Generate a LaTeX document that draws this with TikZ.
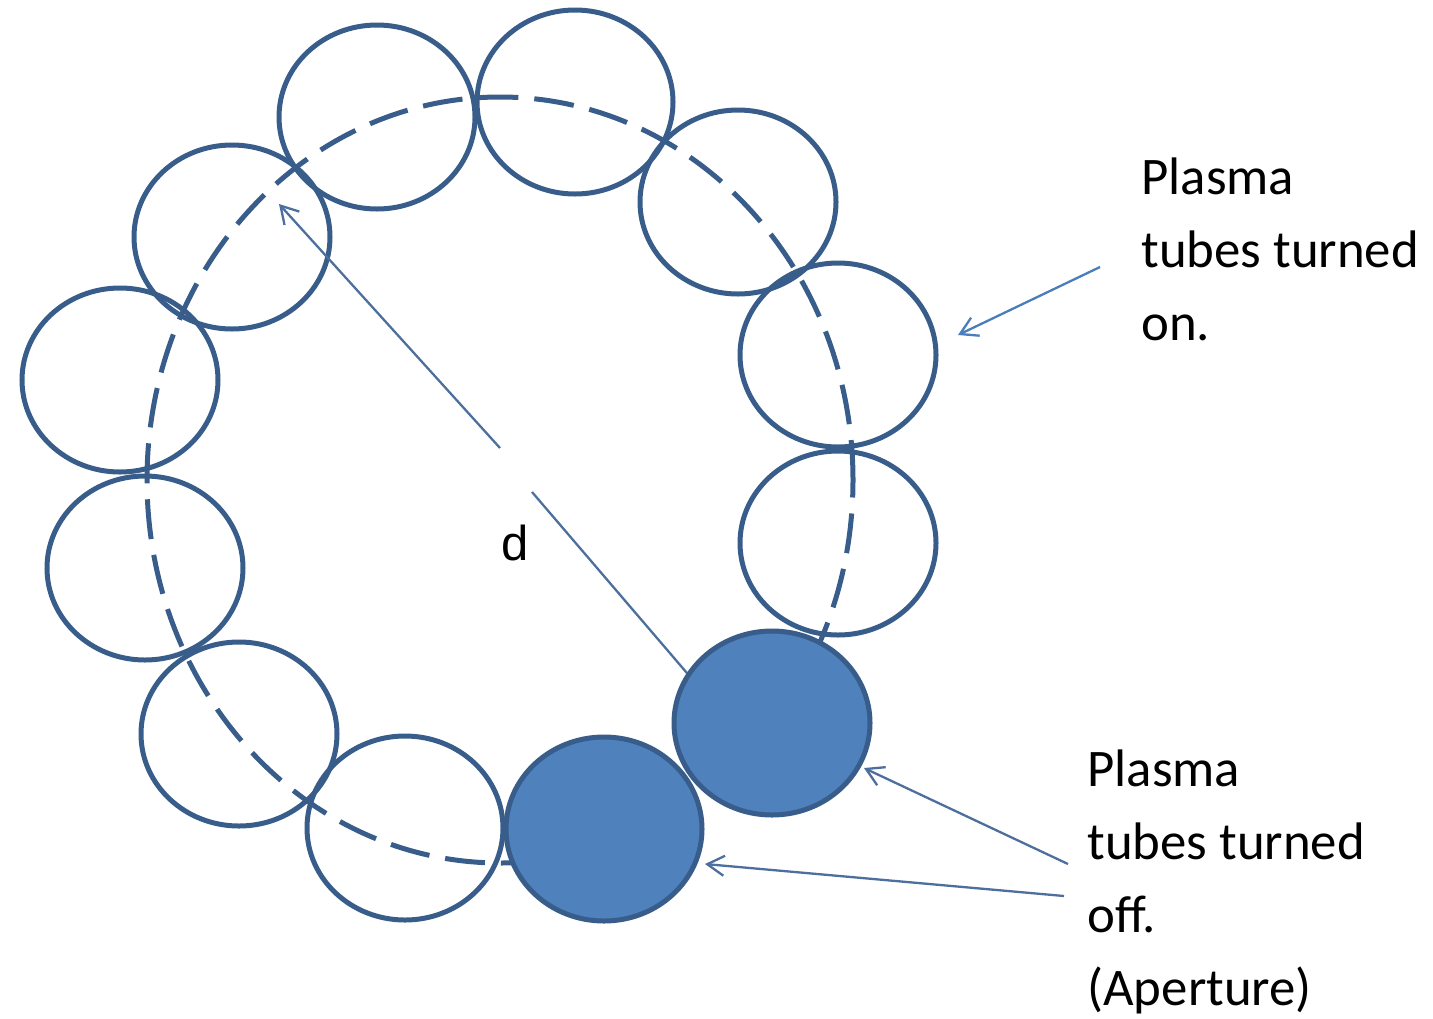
\documentclass[tikz,border=0pt]{standalone}
\usepackage{fontspec}
\setmainfont{Carlito}
\newfontfamily\arialfont{Liberation Sans}
\usetikzlibrary{shapes.geometric,arrows.meta}
\definecolor{outl}{HTML}{385D8A}
\definecolor{tubefill}{HTML}{4F81BD}
\definecolor{arrA}{HTML}{4A7EBB}
\definecolor{arrB}{HTML}{4D6F9D}
\begin{document}
\begin{tikzpicture}[x=0.5pt,y=-0.5pt,
 tube/.style={ellipse,draw=outl,line width=2.5pt,minimum width=98pt,minimum height=92pt,inner sep=0pt},
 offtube/.style={tube,fill=tubefill},
 ring/.style={draw=outl,line width=2.5pt,dash pattern=on 20pt off 8pt},
 pointer/.style={line width=1.15pt,-{Straight Barb[length=8.5pt,width=10pt]}},
 lbl/.style={font=\fontsize{26.4}{30}\selectfont,anchor=base west,inner sep=0pt}
]
\useasboundingbox (0,0) rectangle (1433,1018);

% dashed ring
\draw[ring] (500,480) ellipse [x radius=176.5pt, y radius=191.5pt];

% plasma tubes (on)
\node[tube] (t1) at (377,117) {};
\node[tube] (t2) at (575,102) {};
\node[tube] (t3) at (738,202) {};
\node[tube] (t4) at (838,355) {};
\node[tube] (t5) at (838,543) {};
\node[tube] (t8) at (405,828) {};
\node[tube] (t9) at (239,734) {};
\node[tube] (t10) at (145,568) {};
\node[tube] (t11) at (120,380) {};
\node[tube] (t12) at (232,237) {};

% diameter arrow
\coordinate (dtip) at (279,204);
\coordinate (dmid1) at (500,448);
\coordinate (dmid2) at (532,492);
\coordinate (dend) at (740,735);
\draw[pointer,draw=arrB] (dmid1) -- (dtip);
\draw[line width=1.15pt,draw=arrB] (dmid2) -- (dend);
\node[font=\arialfont\fontsize{24.5}{30}\selectfont,anchor=base west,inner sep=0pt] (dlabel) at (501,560) {d};

% plasma tubes (off)
\node[offtube] (t6) at (772,723) {};
\node[offtube] (t7) at (604,829) {};

% labels
\node[lbl] (on1) at (1141,194) {Plasma};
\node[lbl] (on2) at (1141,267) {tubes turned};
\node[lbl] (on3) at (1141,340) {on.};
\node[lbl] (off1) at (1087,786) {Plasma};
\node[lbl] (off2) at (1087,859) {tubes turned};
\node[lbl] (off3) at (1087,932) {off.};
\node[lbl] (off4) at (1087,1005) {(Aperture)};

% pointers
\coordinate (onstart) at (1100,267);
\coordinate (ontip) at (958,335);
\coordinate (offAstart) at (1068,864);
\coordinate (offAtip) at (864,768);
\coordinate (offBstart) at (1064,896);
\coordinate (offBtip) at (705,864);
\draw[pointer,draw=arrA] (onstart) -- (ontip);
\draw[pointer,draw=arrB] (offAstart) -- (offAtip);
\draw[pointer,draw=arrB] (offBstart) -- (offBtip);
\end{tikzpicture}
\end{document}
